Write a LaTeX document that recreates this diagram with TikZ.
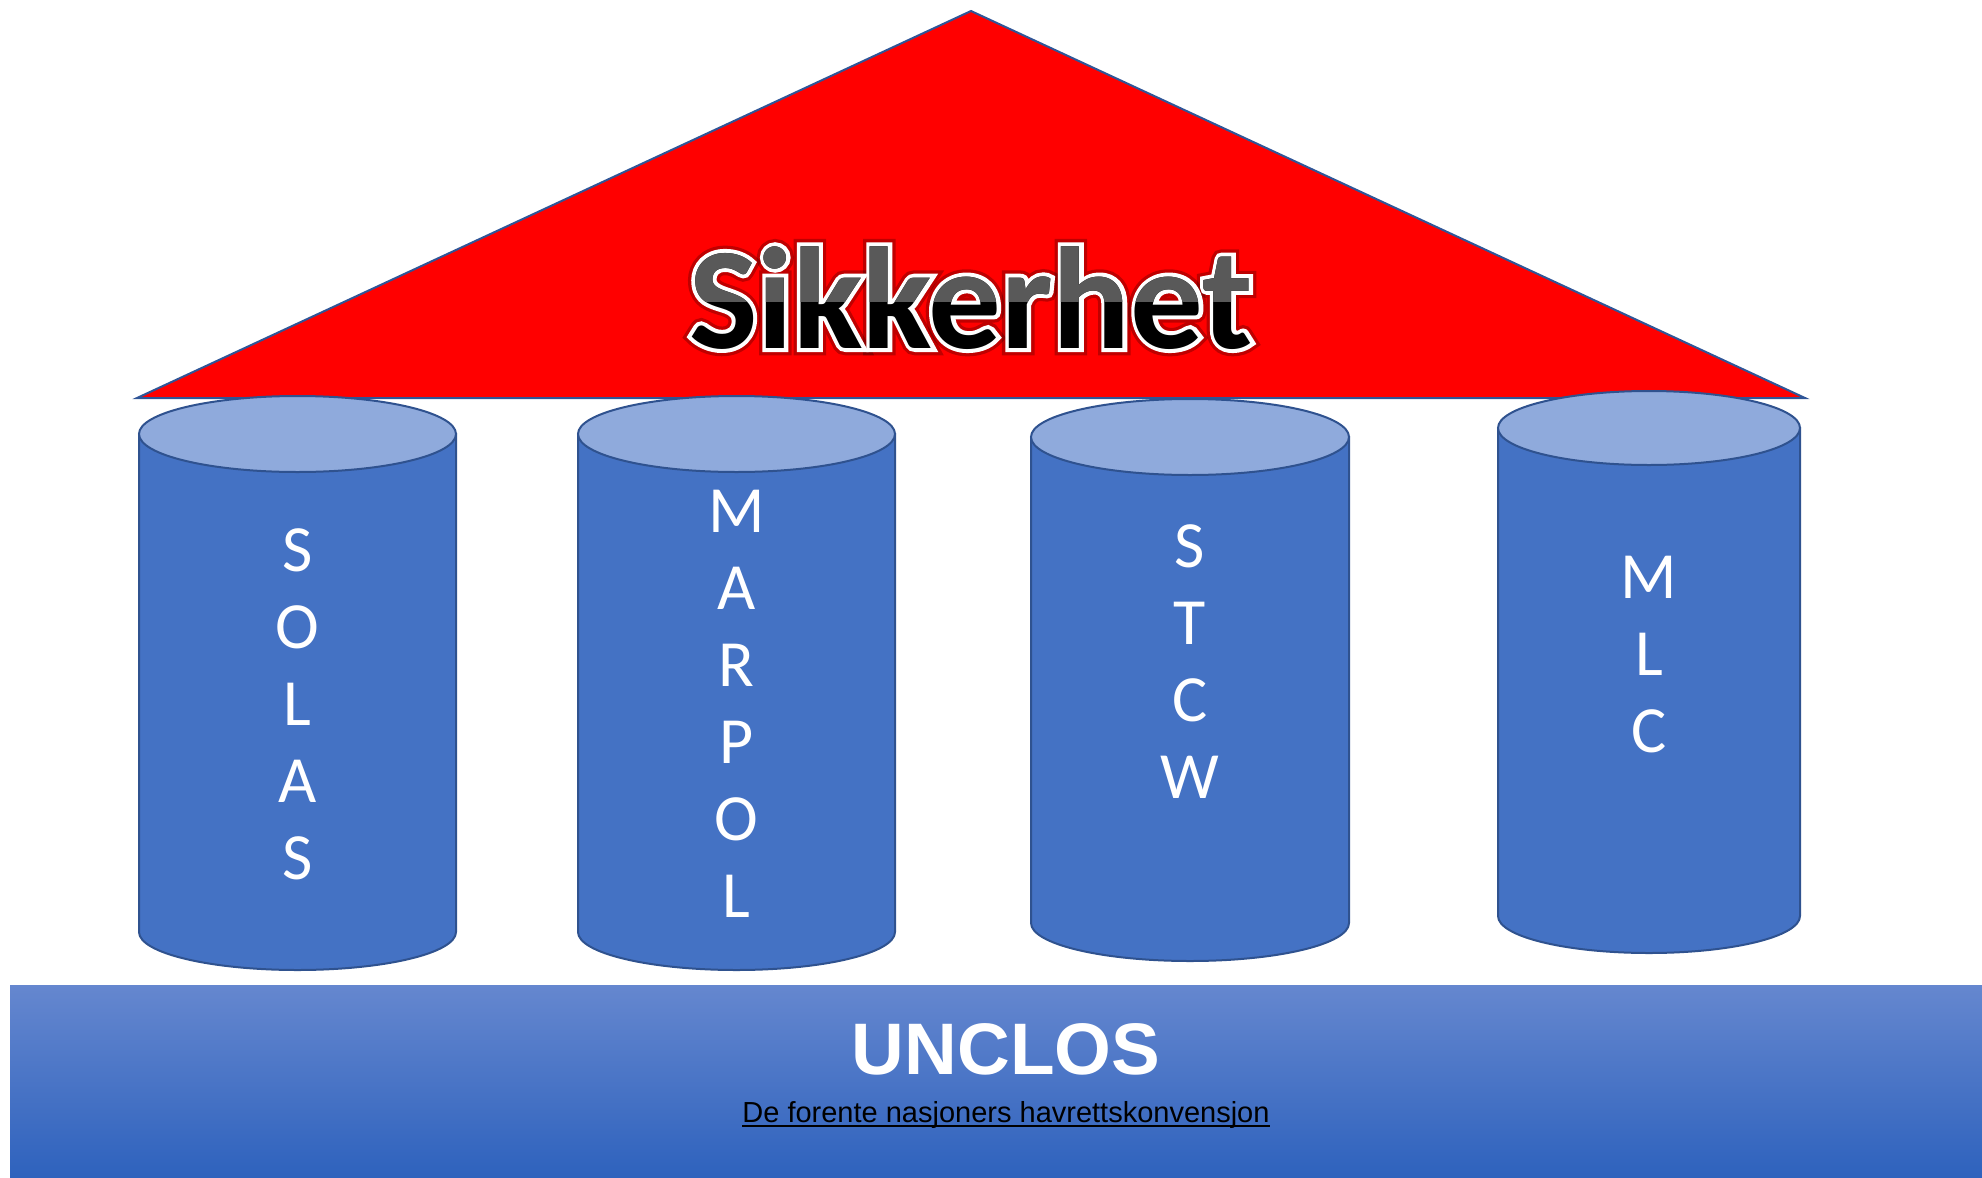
\documentclass[tikz,border=0pt]{standalone}
\usepackage{fontspec}
\setmainfont{Carlito}
\newfontfamily\arialfont{Liberation Sans}
% stroked copies of the title face, used for its rim and its soft shadow
\newfontfamily\titlerim{Carlito}[BoldFeatures={FakeBold=5.5}]
\newfontfamily\titleglow{Carlito}[BoldFeatures={FakeBold=10}]
\usetikzlibrary{calc}

\definecolor{pillarbody}{HTML}{4472C4}
\definecolor{pillartop}{HTML}{8FAADC}
\definecolor{pillarline}{HTML}{2F528F}
\definecolor{roofline}{HTML}{2F5597}
\definecolor{bandtop}{HTML}{6587CF}
\definecolor{bandbottom}{HTML}{2E62BD}
\definecolor{titlegrey}{HTML}{595959}

\tikzset{
  roof/.style={fill=red, draw=roofline, line width=2pt, line join=miter},
  pillarside/.style={fill=pillarbody, draw=pillarline, line width=2pt},
  pillarcap/.style={fill=pillartop, draw=pillarline, line width=2pt},
  pillarlbl/.style={text=white, font=\fontsize{66}{77}\selectfont, align=center, inner sep=0pt},
  titletxt/.style={font=\bfseries\fontsize{145}{150}\selectfont, inner sep=0pt, anchor=base},
  bandtitle/.style={text=white, font=\arialfont\bfseries\fontsize{73}{80}\selectfont, inner sep=0pt},
  bandsub/.style={text=black, font=\arialfont\fontsize{29}{34}\selectfont, inner sep=0pt},
}

\begin{document}
\begin{tikzpicture}[x=1pt, y=1pt]
\useasboundingbox (0,0) rectangle (1982,-1178);

% roof
\path[roof] (971,-11) coordinate (apex) -- (1805,-398) coordinate (roofR)
  -- (137,-398) coordinate (roofL) -- cycle;

% roof title: soft shadow, white rim, black lower half, grey upper half
\coordinate (titlebase) at (971,-348);
\begin{scope}[opacity=0.25]
  \node[titletxt, text=black, font=\titleglow\bfseries\fontsize{145}{150}\selectfont] (titleglow) at (titlebase) {Sikkerhet};
\end{scope}
\node[titletxt, text=white, font=\titlerim\bfseries\fontsize{145}{150}\selectfont] (titlerim) at (titlebase) {Sikkerhet};
\node[titletxt, text=black] (title) at (titlebase) {Sikkerhet};
\begin{scope}
  \clip (400,-200) rectangle (1560,-301);
  \node[titletxt, text=titlegrey] (titletop) at (titlebase) {Sikkerhet};
\end{scope}

% pillars
\foreach \name/\cx/\rx/\yt/\yb/\ry/\ty/\txt in {
    solas/297.5/158.5/434/932/38/704/{S\\O\\L\\A\\S},
    marpol/736.5/158.5/434/932/38/704/{M\\A\\R\\P\\O\\L},
    stcw/1190/159/437/923/38/662/{S\\T\\C\\W},
    mlc/1649/151/428/916/37/655/{M\\L\\C}} {
  \path[pillarside] (\cx-\rx,-\yt) -- (\cx-\rx,-\yb)
    arc[start angle=180, end angle=360, x radius=\rx pt, y radius=\ry pt]
    -- (\cx+\rx,-\yt) -- cycle;
  \path[pillarcap] (\cx,-\yt) ellipse[x radius=\rx pt, y radius=\ry pt];
  \node[pillarlbl] (\name) at (\cx,-\ty) {\txt};
}

% foundation band
\shade[top color=bandtop, bottom color=bandbottom] (10,-985) rectangle (1982,-1178);
\node[bandtitle] (unclos) at (1006,-1049) {UNCLOS};
\node[bandsub, anchor=base] (unclosfull) at (1006,-1122) {De forente nasjoners havrettskonvensjon};
\draw[line width=1.5pt] ($(unclosfull.base west)+(0,-4)$) -- ($(unclosfull.base east)+(0,-4)$);
\end{tikzpicture}
\end{document}
